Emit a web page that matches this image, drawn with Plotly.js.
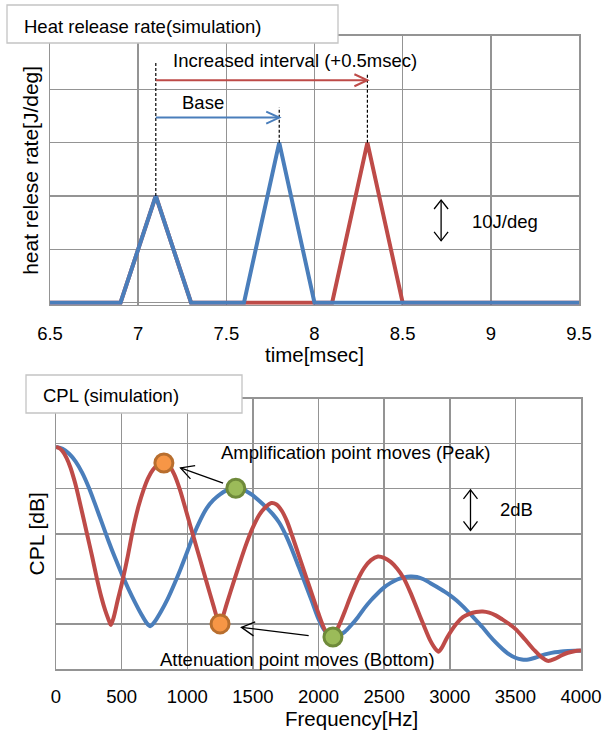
<!DOCTYPE html>
<html><head><meta charset="utf-8">
<script src="https://cdn.plot.ly/plotly-3.0.1.min.js"></script>
<style>html,body{margin:0;padding:0;background:#fff;} #chart{width:603px;height:731px;}</style>
</head><body><div id="chart"></div>
<script>
// ---------- Heat release rate (simulation) ----------
const baseTime = [6.5, 6.9, 7.1, 7.3, 7.6, 7.8, 8.0, 9.5];
const baseHRR  = [0, 0, 20, 0, 0, 30, 0, 0];
const incTime  = [6.5, 6.9, 7.1, 7.3, 8.1, 8.3, 8.5, 9.5];
const incHRR   = [0, 0, 20, 0, 0, 30, 0, 0];
const timeTicks = [6.5, 7, 7.5, 8, 8.5, 9, 9.5];
const timeTickText = ['6.5', '7', '7.5', '8', '8.5', '9', '9.5'];

// ---------- CPL (simulation) ----------
const baseFreq = [0, 50, 100, 150, 200, 250, 300, 350, 400, 450, 500, 550, 600, 650, 690, 718, 750, 800, 850, 900, 950, 1000, 1045, 1100, 1150, 1200, 1250, 1300, 1370, 1430, 1500, 1550, 1600, 1650, 1700, 1750, 1800, 1850, 1900, 1950, 2000, 2050, 2100, 2150, 2200, 2250, 2300, 2350, 2400, 2450, 2500, 2550, 2600, 2650, 2700, 2750, 2800, 2850, 2900, 2950, 3000, 3050, 3100, 3150, 3200, 3250, 3300, 3350, 3400, 3450, 3500, 3550, 3600, 3650, 3700, 3750, 3800, 3850, 3900, 3950, 4000];
const baseCPL  = [9.85, 9.77, 9.55, 9.2, 8.7, 8.05, 7.28, 6.48, 5.68, 4.93, 4.23, 3.58, 2.98, 2.43, 2.05, 1.9, 2.08, 2.55, 3.1, 3.75, 4.45, 5.2, 5.9, 6.62, 7.15, 7.5, 7.75, 7.92, 8.02, 7.95, 7.7, 7.45, 7.18, 6.88, 6.5, 5.95, 5.27, 4.52, 3.77, 3.0, 2.22, 1.68, 1.42, 1.48, 1.65, 1.95, 2.3, 2.7, 3.05, 3.35, 3.62, 3.82, 3.97, 4.06, 4.1, 4.08, 3.98, 3.82, 3.65, 3.47, 3.28, 3.05, 2.78, 2.48, 2.17, 1.85, 1.5, 1.18, 0.9, 0.66, 0.5, 0.42, 0.42, 0.5, 0.6, 0.68, 0.74, 0.78, 0.8, 0.81, 0.81];
const incFreq  = [0, 25, 50, 80, 110, 140, 157, 200, 236, 275, 312, 345, 375, 400, 418, 440, 470, 500, 550, 578, 600, 630, 667, 700, 740, 780, 822, 860, 900, 944, 1000, 1050, 1100, 1150, 1200, 1230, 1250, 1270, 1300, 1350, 1400, 1450, 1500, 1550, 1600, 1641, 1680, 1720, 1760, 1800, 1850, 1900, 1950, 2000, 2050, 2100, 2130, 2169, 2200, 2250, 2300, 2350, 2400, 2453, 2500, 2550, 2600, 2650, 2700, 2750, 2800, 2850, 2890, 2915, 2940, 2980, 3049, 3100, 3150, 3200, 3252, 3300, 3350, 3400, 3468, 3500, 3550, 3600, 3650, 3700, 3747, 3800, 3850, 3900, 3950, 4000];
const incCPL   = [9.85, 9.8, 9.66, 9.37, 8.94, 8.37, 8.0, 6.92, 6.0, 5.0, 4.0, 3.2, 2.6, 2.2, 1.95, 2.3, 3.05, 3.75, 5.1, 5.95, 6.55, 7.25, 7.95, 8.45, 8.85, 9.07, 9.14, 9.03, 8.65, 7.96, 6.83, 5.82, 4.81, 3.8, 2.8, 2.22, 2.0, 2.3, 2.88, 3.8, 4.7, 5.55, 6.28, 6.85, 7.2, 7.36, 7.3, 7.02, 6.55, 5.9, 5.04, 4.18, 3.32, 2.46, 1.72, 1.35, 1.62, 2.1, 2.55, 3.3, 3.98, 4.5, 4.83, 4.99, 4.93, 4.75, 4.45, 4.02, 3.4, 2.68, 1.96, 1.28, 0.9, 0.77, 0.95, 1.4, 2.0, 2.3, 2.45, 2.53, 2.55, 2.5, 2.38, 2.2, 1.93, 1.78, 1.47, 1.13, 0.8, 0.52, 0.36, 0.45, 0.6, 0.72, 0.79, 0.82];
const incPointFreq  = [822, 1250];   // orange: moved peak / bottom (increased interval)
const incPointCPL   = [9.14, 2.0];
const basePointFreq = [1370, 2110];  // green: base peak / bottom
const basePointCPL  = [8.02, 1.42];
const freqTicks = [0, 500, 1000, 1500, 2000, 2500, 3000, 3500, 4000];
const freqTickText = ['0', '500', '1000', '1500', '2000', '2500', '3000', '3500', '4000'];

// ---------- layout helpers ----------
const W = 603, H = 731;
const px = x => x / W;
const py = y => 1 - y / H;
const BLUE = '#4A7EBB', RED = '#BE4B48', GRID = '#949494';
const FONT = 'Liberation Sans, Arial, sans-serif';

const xDom1 = [px(50), px(579)], yDom1 = [py(304.8), py(35.95)];
const xRange1 = [6.5, 9.5], yRange1 = [-0.4, 50];
const xDom2 = [px(56), px(581)], yDom2 = [py(669), py(398.5)];
const xRange2 = [0, 4000], yRange2 = [0, 12];

const sx1 = (xDom1[1] - xDom1[0]) * W / (xRange1[1] - xRange1[0]);
const sy1 = (yDom1[1] - yDom1[0]) * H / (yRange1[1] - yRange1[0]);
const sx2 = (xDom2[1] - xDom2[0]) * W / (xRange2[1] - xRange2[0]);
const sy2 = (yDom2[1] - yDom2[0]) * H / (yRange2[1] - yRange2[0]);

function head(xref, yref, tx, ty, dx, dy, len, hw, color, width) {
  const n = Math.hypot(dx, dy), ux = dx / n, uy = dy / n;
  const bx = -ux * len, by = -uy * len, qx = -uy * hw, qy = ux * hw;
  const f = v => v.toFixed(2);
  return {type: 'path', xref, yref, xsizemode: 'pixel', ysizemode: 'pixel', xanchor: tx, yanchor: ty,
    path: `M ${f(bx + qx)} ${f(by + qy)} L 0 0 L ${f(bx - qx)} ${f(by - qy)}`,
    line: {color, width}};
}
function arrow(xref, yref, x0, y0, x1, y1, sx, sy, len, hw, color, width, both) {
  const out = [{type: 'line', xref, yref, x0, y0, x1, y1, line: {color, width}}];
  out.push(head(xref, yref, x1, y1, (x1 - x0) * sx, (y1 - y0) * sy, len, hw, color, width));
  if (both) out.push(head(xref, yref, x0, y0, (x0 - x1) * sx, (y0 - y1) * sy, len, hw, color, width));
  return out;
}
function dashed(x, y0, y1) {
  return {type: 'line', xref: 'x', yref: 'y', x0: x, x1: x, y0, y1, line: {color: '#000', width: 1.2, dash: '3px,2px'}};
}

const pk1 = baseTime[2], pk2 = baseTime[5], pk3 = incTime[5];

const shapes = [
  dashed(pk1, baseHRR[2], 45.3),
  dashed(pk2, baseHRR[5], 36.6),
  dashed(pk3, incHRR[5], 42.8),
  ...arrow('x', 'y', pk1, 41.7, pk3, 41.7, sx1, sy1, 13, 6, RED, 2, false),
  ...arrow('x', 'y', pk1, 34.7, pk2, 34.7, sx1, sy1, 13, 6, BLUE, 2, false),
  ...arrow('x', 'y', 8.718, 11.6, 8.718, 19.25, sx1, sy1, 9, 7, '#000', 1.3, true),
  ...arrow('x2', 'y2', 1273, 8.25, 949, 8.92, sx2, sy2, 13, 7, '#000', 1.3, false),
  ...arrow('x2', 'y2', 1925, 1.48, 1413, 1.85, sx2, sy2, 13, 7, '#000', 1.3, false),
  ...arrow('x2', 'y2', 3158, 6.15, 3158, 7.95, sx2, sy2, 9, 7, '#000', 1.3, true),
  {type: 'rect', xref: 'paper', yref: 'paper', x0: px(7), x1: px(338), y0: py(43), y1: py(5),
   fillcolor: '#fff', line: {color: '#c4c4c4', width: 1.3}},
  {type: 'rect', xref: 'paper', yref: 'paper', x0: px(26), x1: px(242), y0: py(413), y1: py(375),
   fillcolor: '#fff', line: {color: '#c4c4c4', width: 1.3}}
];

const tf = {family: FONT, size: 18.5, color: '#000'};
const titleFont = {family: FONT, size: 20.5, color: '#000'};
const annotations = [
  {xref: 'paper', yref: 'paper', x: px(22), y: py(26.5), xanchor: 'left', yanchor: 'middle', text: 'Heat release rate(simulation)', showarrow: false, font: tf},
  {xref: 'paper', yref: 'paper', x: px(41), y: py(395), xanchor: 'left', yanchor: 'middle', text: 'CPL (simulation)', showarrow: false, font: tf},
  {xref: 'x', yref: 'y', x: 7.89, y: 45.4, text: 'Increased interval (+0.5msec)', showarrow: false, font: tf},
  {xref: 'x', yref: 'y', x: 7.366, y: 37.5, text: 'Base', showarrow: false, font: tf},
  {xref: 'x', yref: 'y', x: 9.08, y: 15.2, text: '10J/deg', showarrow: false, font: tf},
  {xref: 'x2', yref: 'y2', x: 2283, y: 9.6, text: 'Amplification point moves (Peak)', showarrow: false, font: tf},
  {xref: 'x2', yref: 'y2', x: 1842, y: 0.44, text: 'Attenuation point moves (Bottom)', showarrow: false, font: tf},
  {xref: 'x2', yref: 'y2', x: 3505, y: 7.07, text: '2dB', showarrow: false, font: tf},
  {xref: 'paper', yref: 'paper', x: px(351), y: py(718), xanchor: 'center', yanchor: 'middle', text: 'Frequency[Hz]', showarrow: false, font: titleFont}
];

const axisCommon = {showgrid: true, gridcolor: GRID, gridwidth: 1.5, showline: true, mirror: true,
  linecolor: GRID, linewidth: 1.5, zeroline: false, fixedrange: true};

const traces = [
  {x: incTime, y: incHRR, xaxis: 'x', yaxis: 'y', mode: 'lines', line: {color: RED, width: 4}, name: 'Increased interval'},
  {x: baseTime, y: baseHRR, xaxis: 'x', yaxis: 'y', mode: 'lines', line: {color: BLUE, width: 4}, name: 'Base'},
  {x: baseFreq, y: baseCPL, xaxis: 'x2', yaxis: 'y2', mode: 'lines', line: {color: BLUE, width: 4, shape: 'spline', smoothing: 0.8}, name: 'Base'},
  {x: incFreq, y: incCPL, xaxis: 'x2', yaxis: 'y2', mode: 'lines', line: {color: RED, width: 4, shape: 'spline', smoothing: 0.8}, name: 'Increased interval'},
  {x: incPointFreq, y: incPointCPL, xaxis: 'x2', yaxis: 'y2', mode: 'markers', cliponaxis: false,
   marker: {size: 18, color: '#F79646', line: {color: '#B86E2E', width: 3}}, name: 'moved points'},
  {x: basePointFreq, y: basePointCPL, xaxis: 'x2', yaxis: 'y2', mode: 'markers', cliponaxis: false,
   marker: {size: 18, color: '#9BBB59', line: {color: '#6F8A3A', width: 3}}, name: 'base points'}
];

const layout = {
  width: W, height: H, margin: {l: 0, r: 0, t: 0, b: 0},
  paper_bgcolor: '#fff', plot_bgcolor: '#fff', showlegend: false,
  font: {family: FONT, color: '#000'},
  xaxis: Object.assign({}, axisCommon, {domain: xDom1, range: xRange1, anchor: 'y',
    tickvals: timeTicks, ticktext: timeTickText, ticks: 'outside', ticklen: 11, tickcolor: 'rgba(0,0,0,0)',
    tickfont: tf, title: {text: 'time[msec]', font: titleFont, standoff: 1}}),
  yaxis: Object.assign({}, axisCommon, {domain: yDom1, range: yRange1, anchor: 'x',
    tickvals: [0, 10, 20, 30, 40, 50], showticklabels: false, ticks: '',
    title: {text: 'heat relese rate[J/deg]', font: {family: FONT, size: 21, color: '#000'}, standoff: 4}}),
  xaxis2: Object.assign({}, axisCommon, {domain: xDom2, range: xRange2, anchor: 'y2',
    tickvals: freqTicks, ticktext: freqTickText, ticks: 'outside', ticklen: 10, tickcolor: 'rgba(0,0,0,0)',
    tickfont: tf}),
  yaxis2: Object.assign({}, axisCommon, {domain: yDom2, range: yRange2, anchor: 'x2',
    tickvals: [0, 2, 4, 6, 8, 10, 12], showticklabels: false, ticks: '',
    title: {text: 'CPL [dB]', font: {family: FONT, size: 21, color: '#000'}, standoff: 4}}),
  shapes, annotations
};

Plotly.newPlot('chart', traces, layout, {displayModeBar: false, staticPlot: true});
</script></body></html>
